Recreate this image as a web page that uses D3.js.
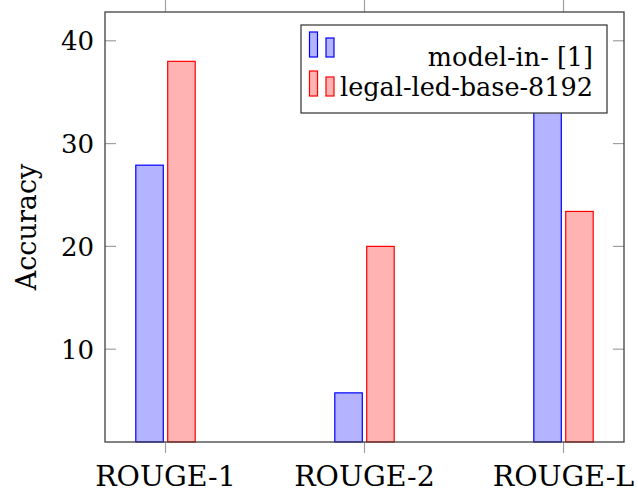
<!DOCTYPE html>
<html>
<head>
<meta charset="utf-8">
<script src="https://cdn.jsdelivr.net/npm/d3@7"></script>
<style>
  body { margin: 0; background: #fff; }
  svg text { font-family: "DejaVu Serif", "Liberation Serif", "Times New Roman", Times, serif; }
</style>
</head>
<body>
<script>
const width = 638, height = 493;
const plotLeft = 105, plotRight = 624, plotTop = 12, plotBottom = 442;

const categories = ["ROUGE-1", "ROUGE-2", "ROUGE-L"];
const seriesNames = ["model-in- [1]", "legal-led-base-8192"];
const modelIn = [27.9, 5.75, 36.0];
const legalLed = [38.0, 20.0, 23.4];
const yTicks = [10, 20, 30, 40];

const series = [
  {name: seriesNames[0], values: modelIn, fill: "#b3b3ff", stroke: "#0000ff", offset: -1},
  {name: seriesNames[1], values: legalLed, fill: "#ffb3b3", stroke: "#ff0000", offset: 1}
];

const svg = d3.select("body").append("svg")
  .attr("width", width)
  .attr("height", height);

const scaleX = d3.scalePoint()
  .domain(categories)
  .range([plotLeft, plotRight])
  .padding(0.304);

const scaleY = d3.scaleLinear()
  .domain([0.97, 42.8])
  .range([plotBottom, plotTop]);

const barW = 27.5, gap = 2.2;

// bars
for (let s of series) {
  svg.append("g").selectAll("rect")
    .data(categories.map((c, i) => ({c, v: s.values[i]})))
    .enter()
    .append("rect")
    .attr("x", d => s.offset < 0 ? scaleX(d.c) - gap - barW : scaleX(d.c) + gap)
    .attr("y", d => scaleY(d.v))
    .attr("width", barW)
    .attr("height", d => plotBottom - scaleY(d.v))
    .attr("fill", s.fill)
    .attr("stroke", s.stroke)
    .attr("stroke-width", 1.2);
}

// ticks
const tickColor = "#a0a0a0";
const g = svg.append("g");
for (let c of categories) {
  g.append("line").attr("x1", scaleX(c)).attr("x2", scaleX(c))
    .attr("y1", plotBottom).attr("y2", plotBottom + 11)
    .attr("stroke", tickColor).attr("stroke-width", 1.2);
  g.append("line").attr("x1", scaleX(c)).attr("x2", scaleX(c))
    .attr("y1", plotTop).attr("y2", plotTop - 12)
    .attr("stroke", tickColor).attr("stroke-width", 1.2);
  g.append("text")
    .attr("x", scaleX(c)).attr("y", 486)
    .attr("text-anchor", "middle")
    .attr("font-size", 28.5)
    .text(c);
}
for (let t of yTicks) {
  g.append("line").attr("x1", plotLeft).attr("x2", plotLeft + 11)
    .attr("y1", scaleY(t)).attr("y2", scaleY(t))
    .attr("stroke", tickColor).attr("stroke-width", 1.2);
  g.append("line").attr("x1", plotRight - 11).attr("x2", plotRight)
    .attr("y1", scaleY(t)).attr("y2", scaleY(t))
    .attr("stroke", tickColor).attr("stroke-width", 1.2);
  g.append("text")
    .attr("x", 94).attr("y", scaleY(t))
    .attr("dy", "0.36em")
    .attr("text-anchor", "end")
    .attr("font-size", 26)
    .text(t);
}

// frame
svg.append("rect")
  .attr("x", plotLeft).attr("y", plotTop)
  .attr("width", plotRight - plotLeft).attr("height", plotBottom - plotTop)
  .attr("fill", "none")
  .attr("stroke", "#404040")
  .attr("stroke-width", 1.3);

// y label
svg.append("text")
  .attr("transform", `translate(36, ${(plotTop + plotBottom) / 2}) rotate(-90)`)
  .attr("text-anchor", "middle")
  .attr("font-size", 27)
  .text("Accuracy");

// legend
const lg = svg.append("g");
lg.append("rect")
  .attr("x", 301).attr("y", 25)
  .attr("width", 306).attr("height", 88)
  .attr("fill", "#fff")
  .attr("stroke", "#303030")
  .attr("stroke-width", 1.2);

series.forEach((s, i) => {
  const y0 = 57 + i * 39;
  lg.append("rect").attr("x", 309.5).attr("y", y0 - 25)
    .attr("width", 8).attr("height", 25)
    .attr("fill", s.fill).attr("stroke", s.stroke).attr("stroke-width", 1.2);
  lg.append("rect").attr("x", 326).attr("y", y0 - 19)
    .attr("width", 8).attr("height", 19)
    .attr("fill", s.fill).attr("stroke", s.stroke).attr("stroke-width", 1.2);
  lg.append("text")
    .attr("x", 593).attr("y", 66 + i * 30)
    .attr("text-anchor", "end")
    .attr("font-size", 25.5)
    .text(s.name);
});
</script>
</body>
</html>
